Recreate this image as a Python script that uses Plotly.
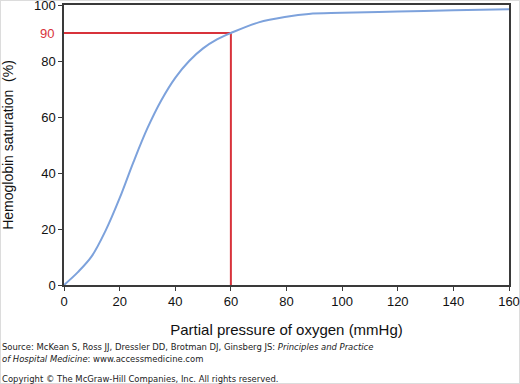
import plotly.graph_objects as go

# Data
po2 = [0, 5, 10, 15, 20, 25, 30, 35, 40, 45, 50, 55, 60, 70, 80, 88, 100, 120, 140, 160]
sat = [0, 4.6, 10.3, 19.5, 31, 44, 56, 66, 74, 80, 84.5, 87.7, 90, 93.8, 95.8, 96.8, 97.2, 97.7, 98.1, 98.5]
ref_po2 = 60
ref_sat = 90
x_ticks = [0, 20, 40, 60, 80, 100, 120, 140, 160]
y_ticks = [0, 20, 40, 60, 80, 100]

RED = "#d8333b"
BLUE = "#7da2dc"
AXC = "#3a3a3a"

W, H = 520, 384
L, R, T, B = 64, 11, 5, 99
PW, PH = W - L - R, H - T - B

fig = go.Figure()
fig.add_trace(go.Scatter(x=[0, ref_po2, ref_po2], y=[ref_sat, ref_sat, 0], mode="lines",
                         line=dict(color=RED, width=2), hoverinfo="skip"))
fig.add_trace(go.Scatter(x=po2, y=sat, mode="lines", line=dict(color=BLUE, width=2, shape="spline", smoothing=1.0)))

font = "Liberation Sans, Arial, Helvetica, sans-serif"
fig.update_layout(
    width=W, height=H,
    margin=dict(l=L, r=R, t=T, b=B, autoexpand=False),
    paper_bgcolor="white", plot_bgcolor="white",
    showlegend=False,
    font=dict(family=font, size=13, color="#111"),
    xaxis=dict(range=[0, 160], tickvals=x_ticks, ticks="outside", ticklen=4, tickcolor=AXC, automargin=False,
               ticklabeloverflow="allow",
               showline=True, linecolor=AXC, linewidth=1.5, mirror=True, showgrid=False, zeroline=False,
               title=dict(text="Partial pressure of oxygen (mmHg)", font=dict(size=15, family=font), standoff=16)),
    yaxis=dict(range=[0, 100], tickvals=y_ticks, ticks="outside", ticklen=4, tickcolor=AXC, automargin=False,
               ticklabeloverflow="allow",
               showline=True, linecolor=AXC, linewidth=1.5, mirror=True, showgrid=False, zeroline=False,
               title=dict(text="Hemoglobin saturation  (%)", font=dict(size=14, family=font), standoff=20)),
)
fig.add_annotation(xref="paper", yref="y", x=0, y=ref_sat, xshift=-8, xanchor="right", yanchor="middle",
                   text=str(ref_sat), showarrow=False, font=dict(color=RED, size=13, family=font))

src_font = dict(family="DejaVu Sans Condensed, DejaVu Sans, Verdana, sans-serif", size=9.4, color="#222")
fig.add_annotation(xref="paper", yref="paper", x=-L/PW, y=-54/PH, xanchor="left", yanchor="top", align="left",
                   showarrow=False, font=src_font,
                   text="Source: McKean S, Ross JJ, Dressler DD, Brotman DJ, Ginsberg JS: <i>Principles and Practice</i><br><i>of Hospital Medicine</i>: www.accessmedicine.com")
fig.add_annotation(xref="paper", yref="paper", x=-L/PW, y=-86/PH, xanchor="left", yanchor="top", align="left",
                   showarrow=False, font=src_font,
                   text="Copyright © The McGraw-Hill Companies, Inc. All rights reserved.")

# light frame around the image
fig.add_shape(type="rect", xref="paper", yref="paper", x0=-L/PW, x1=(W - L)/PW, y0=-B/PH, y1=1 + T/PH,
              line=dict(color="#dcdcdc", width=2), layer="below")

fig.write_html("out.html", config={"displayModeBar": False},
               post_script="document.body.style.margin='0';document.body.style.padding='0';")
